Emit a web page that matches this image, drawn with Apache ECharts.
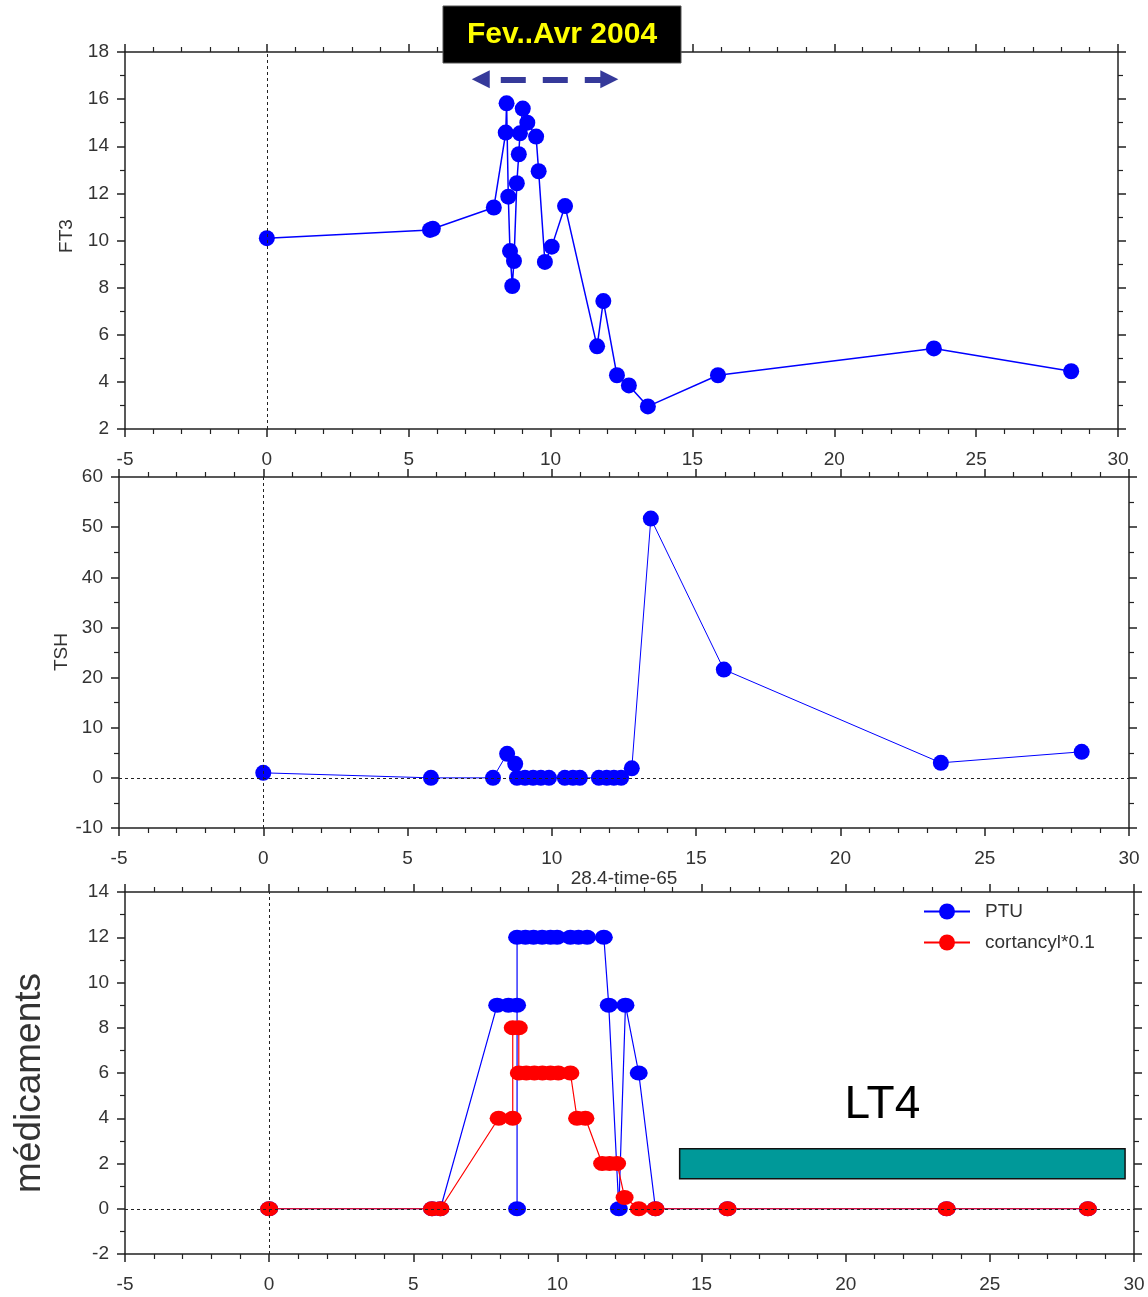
<!DOCTYPE html>
<html><head><meta charset="utf-8">
<script src="https://cdn.jsdelivr.net/npm/echarts@6/dist/echarts.min.js"></script>
<style>html,body{margin:0;padding:0;background:#fff}#c{width:1148px;height:1297px}</style>
</head><body><div id="c"></div>
<script>
// ---------------- data ----------------
const xMin = -5, xMax = 30, xStep = 5;
const ft3Ticks = {min: 2, max: 18, step: 2};
const tshTicks = {min: -10, max: 60, step: 10};
const medTicks = {min: -2, max: 14, step: 2};

const ft3X = [0,5.75,5.85,8.0,8.42,8.45,8.51,8.57,8.65,8.71,8.81,8.88,8.92,9.02,9.18,9.49,9.58,9.8,10.04,10.51,11.64,11.86,12.34,12.76,13.43,15.9,23.51,28.35];
const ft3Y = [10.1,10.45,10.5,11.4,14.58,15.82,11.86,9.55,8.07,9.13,12.43,13.66,14.55,15.6,15.0,14.41,12.94,9.09,9.74,11.46,5.51,7.43,4.28,3.85,2.96,4.28,5.42,4.45];

const tshX = [0,5.81,7.96,8.45,8.73,8.79,9.07,9.35,9.62,9.9,10.45,10.73,10.97,11.63,11.9,12.15,12.4,12.77,13.43,15.96,23.48,28.36];
const tshY = [1.0,0,0,4.8,2.8,0,0,0,0,0,0,0,0,0,0,0,0,1.9,51.7,21.6,3.0,5.2];

const ptuX = [0,5.65,5.94,7.91,8.3,8.6,8.6,8.6,8.89,9.17,9.47,9.76,9.99,10.45,10.73,11.03,11.61,11.78,12.13,12.36,12.82,13.4,15.9,23.5,28.4];
const ptuY = [0,0,0,9,9,9,0,12,12,12,12,12,12,12,12,12,12,9,0,9,6,0,0,0,0];

const cortX = [0,5.65,5.94,7.96,8.45,8.45,8.66,8.66,8.92,9.2,9.48,9.76,10.03,10.45,10.68,10.97,11.55,11.81,12.07,12.33,12.82,13.4,15.9,23.5,28.4];
const cortY = [0,0,0,4,4,8,8,6,6,6,6,6,6,6,4,4,2,2,2,0.5,0,0,0,0,0];

const seriesNames = ['FT3', 'TSH', 'PTU', 'cortancyl*0.1'];
const xAxisTitle = '28.4-time-65';
const yAxisTitles = ['FT3', 'TSH', 'médicaments'];

const lt4Name = 'LT4';
const lt4X = [14.24, 29.69];
const lt4Y = [2.65, 1.33];

const periodLabel = 'Fev..Avr 2004';
const periodArrowX = [7.54, 12.07];
const periodArrowY = 16.84;

// ---------------- chart ----------------
const FONT = '"Liberation Sans", Arial, sans-serif';
const AX = '#222';
const TXT = '#333';
const pairs = (xs, ys) => xs.map((x, i) => [x, ys[i]]);

const grids = [
  {left: 125, top: 52, width: 993, height: 377},
  {left: 119, top: 477, width: 1010, height: 351},
  {left: 125, top: 892, width: 1009, height: 362}
];

function xAxisCfg(gi, pos) {
  return {
    type: 'value', gridIndex: gi, position: pos, min: xMin, max: xMax, interval: xStep,
    axisLine: {show: true, onZero: false, lineStyle: {color: AX, width: 1.5}},
    axisTick: {show: true, length: 8, lineStyle: {color: AX, width: 1.5}},
    minorTick: {show: true, splitNumber: 5, length: 5, lineStyle: {color: AX, width: 1.2}},
    axisLabel: {show: pos === 'bottom', margin: 21, fontSize: 19, color: TXT, fontFamily: FONT},
    splitLine: {show: false}
  };
}
function yAxisCfg(gi, pos, t) {
  return {
    type: 'value', gridIndex: gi, position: pos, min: t.min, max: t.max, interval: t.step,
    axisLine: {show: true, onZero: false, lineStyle: {color: AX, width: 1.5}},
    axisTick: {show: true, length: 8, lineStyle: {color: AX, width: 1.5}},
    minorTick: {show: true, splitNumber: 2, length: 5, lineStyle: {color: AX, width: 1.2}},
    axisLabel: {show: pos === 'left', margin: 16, fontSize: 19, color: TXT, fontFamily: FONT},
    splitLine: {show: false}
  };
}

const refLine = {type: [3, 3], color: '#222', width: 1};
function refSeries(gi, withZero) {
  const d = [{xAxis: 0}];
  if (withZero) d.push({yAxis: 0});
  return {
    type: 'line', name: 'ref' + gi, xAxisIndex: gi * 2, yAxisIndex: gi * 2, data: [], z: 1,
    markLine: {silent: true, symbol: ['none', 'none'], label: {show: false}, lineStyle: refLine, data: d, animation: false}
  };
}

const option = {
  animation: false,
  backgroundColor: '#fff',
  textStyle: {fontFamily: FONT},
  grid: grids,
  xAxis: [xAxisCfg(0, 'bottom'), xAxisCfg(0, 'top'), xAxisCfg(1, 'bottom'), xAxisCfg(1, 'top'), xAxisCfg(2, 'bottom'), xAxisCfg(2, 'top')],
  yAxis: [yAxisCfg(0, 'left', ft3Ticks), yAxisCfg(0, 'right', ft3Ticks), yAxisCfg(1, 'left', tshTicks), yAxisCfg(1, 'right', tshTicks), yAxisCfg(2, 'left', medTicks), yAxisCfg(2, 'right', medTicks)],
  legend: {
    data: [seriesNames[2], seriesNames[3]], orient: 'vertical', left: 918, top: 897,
    itemWidth: 46, itemHeight: 20, itemGap: 12,
    textStyle: {fontSize: 19, color: TXT, fontFamily: FONT, padding: [0, 0, 0, 10]}
  },
  series: [
    refSeries(0, false), refSeries(1, true), refSeries(2, true),
    {
      type: 'line', name: seriesNames[0], xAxisIndex: 0, yAxisIndex: 0, z: 3,
      data: pairs(ft3X, ft3Y), symbol: 'circle', symbolSize: 16,
      lineStyle: {color: '#0000ff', width: 1.5}, itemStyle: {color: '#0000ff'},
      markLine: {
        silent: true, symbol: ['triangle', 'triangle'], symbolSize: 18, label: {show: false},
        lineStyle: {color: '#35399a', width: 6, type: [25, 17], dashOffset: 22},
        data: [[{coord: [periodArrowX[0], periodArrowY]}, {coord: [periodArrowX[1], periodArrowY]}]]
      }
    },
    {
      type: 'line', name: seriesNames[1], xAxisIndex: 2, yAxisIndex: 2, z: 3,
      data: pairs(tshX, tshY), symbol: 'circle', symbolSize: 16,
      lineStyle: {color: '#0000ff', width: 1}, itemStyle: {color: '#0000ff'}
    },
    {
      type: 'line', name: 'lt4', xAxisIndex: 4, yAxisIndex: 4, data: [], z: 2,
      markArea: {
        silent: true,
        itemStyle: {color: '#009999', borderColor: '#111', borderWidth: 1.5},
        label: {show: true, position: 'top', distance: 20, offset: [-20, 0], fontSize: 46, color: '#000', fontFamily: FONT},
        data: [[{name: lt4Name, coord: [lt4X[0], lt4Y[0]]}, {coord: [lt4X[1], lt4Y[1]]}]]
      }
    },
    {
      type: 'line', name: seriesNames[2], xAxisIndex: 4, yAxisIndex: 4, z: 3,
      data: pairs(ptuX, ptuY), symbol: 'circle', symbolSize: [18, 15],
      lineStyle: {color: '#0000ff', width: 1.2}, itemStyle: {color: '#0000ff'}
    },
    {
      type: 'line', name: seriesNames[3], xAxisIndex: 4, yAxisIndex: 4, z: 4,
      data: pairs(cortX, cortY), symbol: 'circle', symbolSize: [18, 15],
      lineStyle: {color: '#ff0000', width: 1.2}, itemStyle: {color: '#ff0000'}
    }
  ],
  graphic: [
    {type: 'text', x: 67, y: 236, rotation: Math.PI / 2, style: {text: yAxisTitles[0], fontSize: 19, fontFamily: FONT, fill: TXT, align: 'center', verticalAlign: 'middle'}},
    {type: 'text', x: 62, y: 652, rotation: Math.PI / 2, style: {text: yAxisTitles[1], fontSize: 19, fontFamily: FONT, fill: TXT, align: 'center', verticalAlign: 'middle'}},
    {type: 'text', x: 30, y: 1083, rotation: Math.PI / 2, style: {text: yAxisTitles[2], fontSize: 37, fontFamily: FONT, fill: TXT, align: 'center', verticalAlign: 'middle'}},
    {type: 'text', x: 624, y: 879, style: {text: xAxisTitle, fontSize: 19, fontFamily: FONT, fill: TXT, align: 'center', verticalAlign: 'middle'}},
    {type: 'rect', shape: {x: 443, y: 6, width: 238, height: 57}, style: {fill: '#000', stroke: '#555', lineWidth: 1}, z: 10},
    {type: 'text', x: 562, y: 35, z: 11, style: {text: periodLabel, fontSize: 30, fontWeight: 'bold', fontFamily: FONT, fill: '#ffff00', align: 'center', verticalAlign: 'middle'}}
  ]
};

const chart = echarts.init(document.getElementById('c'), null, {renderer: 'canvas'});
chart.setOption(option);
</script>
</body></html>
